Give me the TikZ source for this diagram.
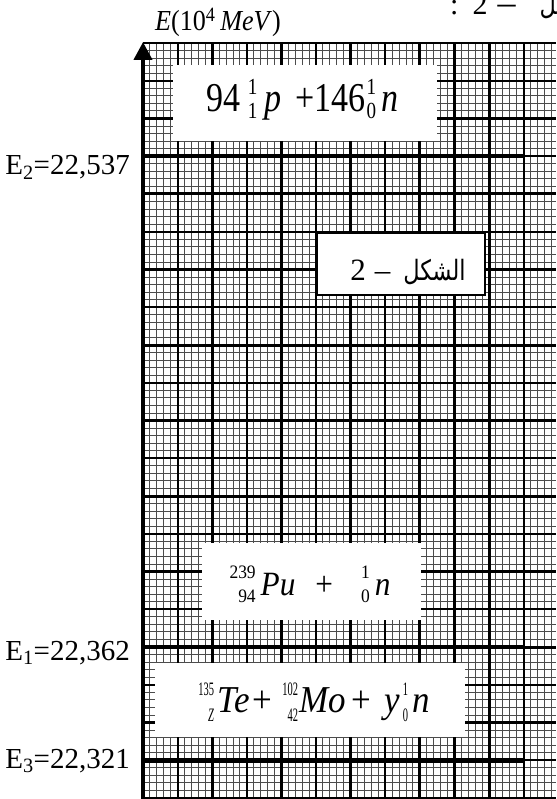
\documentclass[tikz,border=0pt]{standalone}
\usepackage{fontspec}
\setmainfont{Liberation Serif}
\newfontfamily\serifc{Liberation Serif}[FakeStretch=0.9]
\newfontfamily\eqf{Liberation Serif}[FakeStretch=0.83]
\newfontfamily\eqg{Liberation Serif}[FakeStretch=0.92]
\newfontfamily\scrc{Liberation Serif}[FakeStretch=0.55]
\newfontfamily\arabicfont[Script=Arabic,FakeStretch=0.8]{DejaVu Sans}
\TeXXeTstate=1
\usetikzlibrary{arrows.meta}
\newsavebox\isosup
\newsavebox\isosub
\newlength\isow
\newcommand\iso[2]{%
  \sbox\isosup{\scr #1}\sbox\isosub{\scr #2}%
  \setlength\isow{\wd\isosup}%
  \ifdim\wd\isosub>\isow \setlength\isow{\wd\isosub}\fi
  \makebox[\isow][r]{\raisebox{\supr}{\usebox\isosup}}%
  \llap{\makebox[\isow][r]{\raisebox{-\subd}{\usebox\isosub}}}}
\begin{document}
\begin{tikzpicture}[x=1pt,y=-1pt,
  minor/.style={line width=0.9pt, black!70},
  majA/.style={line width=2.2pt, black},
  majB/.style={line width=3pt, black},
  level/.style={line width=4.5pt, black},
  wbox/.style={fill=white, draw=none, inner sep=0pt, outer sep=0pt},
  lab/.style={anchor=base east, inner sep=0pt, font=\fontsize{29}{29}\selectfont},
  eqtext/.style={inner sep=0pt, anchor=base},
]
\useasboundingbox (0,0) rectangle (556,799);
\clip (0,0) rectangle (556,799);
% grid: minor lines
\foreach \i in {1,...,60} \draw[minor] ({143+6.92*\i},43) -- ({143+6.92*\i},798);
\foreach \j in {1,...,99} \draw[minor] (143,{43+7.55*\j}) -- (556,{43+7.55*\j});
% grid: major lines
\foreach \i in {1,3,...,11} \draw[majA] ({143+34.6*\i},43) -- ({143+34.6*\i},798);
\foreach \i in {2,4,...,12} \draw[majB] ({143+34.6*\i},43) -- ({143+34.6*\i},798);
\foreach \j in {1,3,...,19} \draw[majA] (143,{43+37.75*\j}) -- (556,{43+37.75*\j});
\foreach \j in {2,4,...,18} \draw[majB] (143,{43+37.75*\j}) -- (556,{43+37.75*\j});
% borders
\draw[line width=2pt] (143,43) -- (556,43);
\draw[line width=3pt] (143,798) -- (556,798);
% energy levels
\coordinate (e2a) at (143,156.25); \coordinate (e2b) at (524,156.25);
\coordinate (e1a) at (143,647);    \coordinate (e1b) at (524,647);
\coordinate (e3a) at (143,760.25); \coordinate (e3b) at (524,760.25);
\draw[level] (e2a) -- (e2b);
\draw[level] (e1a) -- (e1b);
\draw[level] (e3a) -- (e3b);
% axis
\coordinate (ax0) at (143,799);
\coordinate (ax1) at (143,42);
\draw[line width=4pt, -{Triangle[length=18pt,width=18pt]}] (ax0) -- (ax1);
% axis label
\node[anchor=base west, inner sep=0pt, font=\serifc\fontsize{29}{29}\selectfont] (ylab) at (155,31)
  {\textit{E}(10\textsuperscript{4}\,\textit{MeV})};
% level labels
\node[lab] (l2) at (130,175) {E\textsubscript{2}=22,537};
\node[lab] (l1) at (130,660) {E\textsubscript{1}=22,362};
\node[lab] (l3) at (130,768) {E\textsubscript{3}=22,321};
% white boxes
\node[wbox, minimum width=264pt, minimum height=76pt] (b1) at (305,103) {};
\node[wbox, minimum width=219pt, minimum height=77pt] (b2) at (311.5,581.5) {};
\node[wbox, minimum width=310pt, minimum height=74pt] (b3) at (310,700) {};
\node[fill=white, draw=black, line width=2pt, inner sep=0pt, minimum width=168pt, minimum height=62pt] (b4) at (401,264) {};
% equations
\node[eqtext] (t1) at (302.5,112) {\eqf\fontsize{41}{41}\selectfont
  \def\scr{\fontsize{23}{23}\selectfont}\def\supr{17pt}\def\subd{7pt}%
  94\hspace{7pt}\iso{1}{1}\hspace{7pt}\textit{p}\hspace{14pt}+146\hspace{1pt}\iso{1}{0}\hspace{5pt}\textit{n}};
\node[eqtext] (t2) at (310,595) {\eqg\fontsize{34}{34}\selectfont
  \def\scr{\fontsize{19}{19}\selectfont}\def\supr{17pt}\def\subd{7pt}%
  \iso{239}{94}\hspace{5pt}\textit{Pu}\hspace{20pt}+\hspace{28pt}\iso{1}{0}\hspace{5pt}\textit{n}};
\node[eqtext] (t3) at (314,712) {\eqg\fontsize{38}{38}\selectfont
  \def\scr{\scrc\fontsize{19}{19}\selectfont}\def\supr{17pt}\def\subd{9pt}%
  \iso{135}{\textit{Z}}\hspace{4pt}\textit{Te}\hspace{3pt}+\hspace{10pt}\iso{102}{42}\hspace{1pt}\textit{Mo}\hspace{6pt}+\hspace{13pt}\textit{y}\hspace{3pt}\iso{1}{0}\hspace{4pt}\textit{n}};
\node[eqtext] (t4) at (408,280) {{\fontsize{31}{31}\selectfont 2\hspace{9pt}–}\hspace{13pt}{\arabicfont\fontsize{28}{28}\selectfont\beginR الشكل\endR}};
% partial caption at top right
\node[anchor=base west, inner sep=0pt] (cap) at (450,15) {{\fontsize{30}{30}\selectfont :\hspace{14pt}2\hspace{10pt}{\fontsize{36}{36}\selectfont –}}\hspace{24pt}{\arabicfont\fontsize{28}{28}\selectfont\beginR الشكل\endR}};
\end{tikzpicture}
\end{document}
